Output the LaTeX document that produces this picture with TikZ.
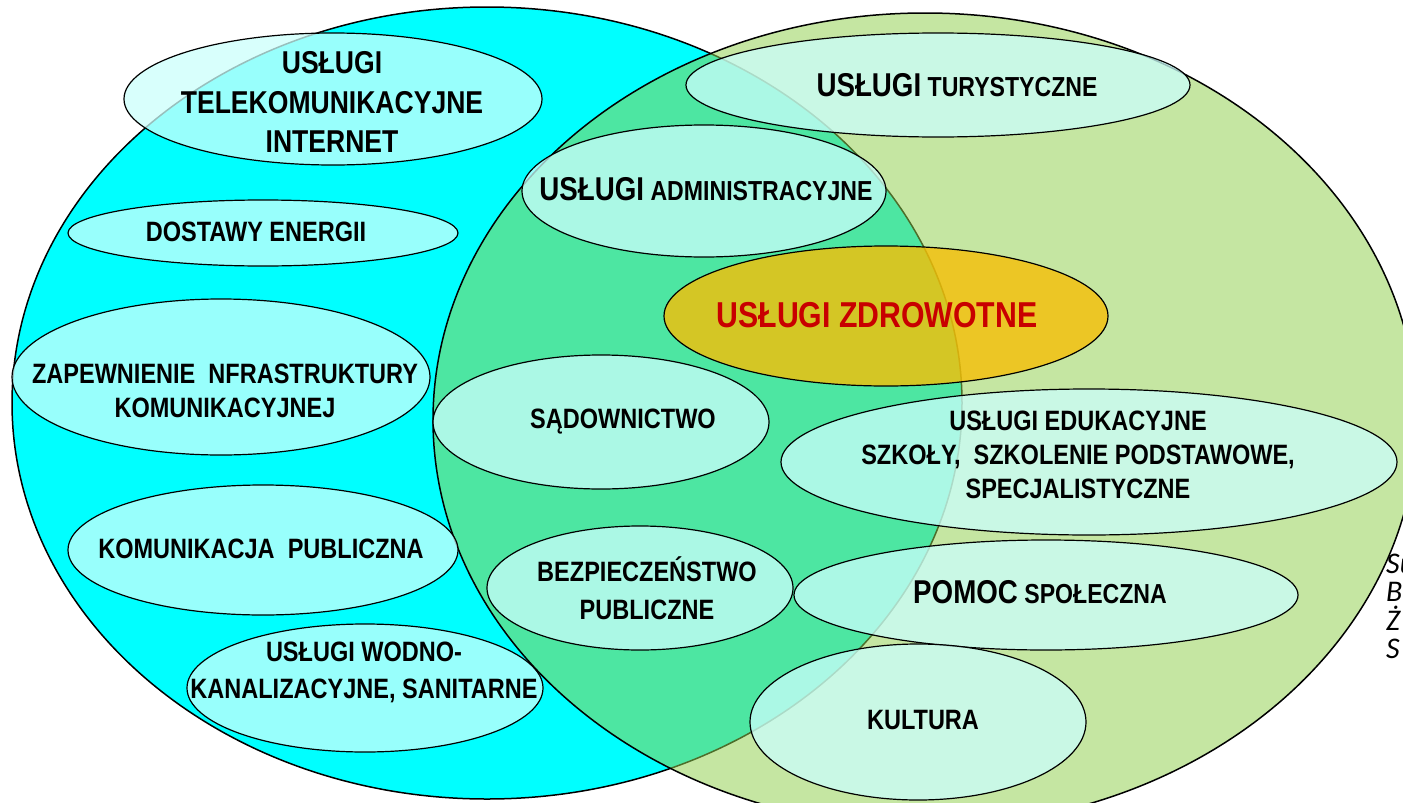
\documentclass[tikz,border=0pt]{standalone}
\usepackage{fontspec}
\newfontfamily\narrowsf{Liberation Sans}[FakeStretch=0.84]
\newfontfamily\notefont{Carlito}
\usetikzlibrary{shapes.geometric}
\definecolor{setcyan}{RGB}{0,255,255}
\definecolor{setgreen}{RGB}{146,208,80}
\definecolor{bubblefill}{RGB}{203,255,252}
\definecolor{healthgold}{RGB}{246,190,6}
\definecolor{healthred}{RGB}{200,0,0}
\newcommand\leadword[1]{{\fontsize{33}{40}\selectfont #1}}

\begin{document}
\begin{tikzpicture}[x=1pt,y=-1pt,
  % the two big sets:
  venn/.style = {ellipse, draw, line width=1.5pt, inner sep=0},
  % common options for the small ellipses:
  bubble/.style = {ellipse, draw, line width=1.2pt, fill=bubblefill,
              fill opacity=0.75, inner sep=0},
  % common options for the texts:
  txt/.style = {align=center, inner sep=0,
              font=\narrowsf\bfseries\fontsize{28}{34}\selectfont},
  note/.style = {anchor=base west, inner sep=0,
              font=\notefont\itshape\fontsize{30}{28}\selectfont}
	]
  \useasboundingbox[fill=white] (0,0) rectangle (1403,803);

  \node[venn, fill=setcyan, minimum width=950pt, minimum height=792pt] (tech) at (487,403) {};
  \node[venn, fill=setgreen, fill opacity=0.53, minimum width=984pt, minimum height=814pt] (social) at (925,420) {};

  \node[bubble, minimum width=418pt, minimum height=132pt] (tele) at (333,99) {};
  \node[bubble, minimum width=390pt, minimum height=66pt] (energy) at (263,233) {};
  \node[bubble, minimum width=418pt, minimum height=156pt] (infra) at (221,377) {};
  \node[bubble, minimum width=390pt, minimum height=130pt] (transport) at (263,550) {};
  \node[bubble, minimum width=356pt, minimum height=128pt] (water) at (365,688) {};
  \node[bubble, minimum width=504pt, minimum height=104pt] (tourism) at (938,85) {};
  \node[bubble, minimum width=364pt, minimum height=132pt] (admin) at (704,191) {};
  \node[bubble, fill=healthgold, fill opacity=0.8, minimum width=444pt, minimum height=140pt] (health) at (886,316) {};
  \node[bubble, minimum width=336pt, minimum height=134pt] (courts) at (601,422) {};
  \node[bubble, minimum width=616pt, minimum height=146pt] (edu) at (1089,462) {};
  \node[bubble, minimum width=306pt, minimum height=124pt] (safety) at (640,588) {};
  \node[bubble, minimum width=504pt, minimum height=110pt] (welfare) at (1046,595) {};
  \node[bubble, minimum width=336pt, minimum height=156pt] (culture) at (918,722) {};

  \node[txt, font=\narrowsf\bfseries\fontsize{31.6}{39.5}\selectfont] (tele-t) at (332,102) {USŁUGI\\TELEKOMUNIKACYJNE\\INTERNET};
  \node[txt] (energy-t) at (256,232) {DOSTAWY ENERGII};
  \node[txt] (infra-t) at (225,391) {ZAPEWNIENIE~~NFRASTRUKTURY\\KOMUNIKACYJNEJ};
  \node[txt] (transport-t) at (261,549) {KOMUNIKACJA~~PUBLICZNA};
  \node[txt, font=\narrowsf\bfseries\fontsize{28}{37}\selectfont] (water-t) at (364,672) {USŁUGI WODNO-\\KANALIZACYJNE, SANITARNE};
  \node[txt, font=\narrowsf\bfseries\fontsize{27.5}{34}\selectfont] (tourism-t) at (957,85) {\leadword{USŁUGI} TURYSTYCZNE};
  \node[txt, font=\narrowsf\bfseries\fontsize{27.5}{34}\selectfont] (admin-t) at (706,189) {\leadword{USŁUGI} ADMINISTRACYJNE};
  \node[txt, text=healthred, font=\narrowsf\bfseries\fontsize{36}{42}\selectfont] (health-t) at (877,315) {USŁUGI ZDROWOTNE};
  \node[txt] (courts-t) at (623,422) {SĄDOWNICTWO};
  \node[txt] (edu-t) at (1078,455) {USŁUGI EDUKACYJNE\\SZKOŁY,~~SZKOLENIE PODSTAWOWE,\\SPECJALISTYCZNE};
  \node[txt, font=\narrowsf\bfseries\fontsize{28}{38}\selectfont] (safety-t) at (647,588) {BEZPIECZEŃSTWO\\PUBLICZNE};
  \node[txt, font=\narrowsf\bfseries\fontsize{27.5}{34}\selectfont] (welfare-t) at (1040,592) {\leadword{POMOC} SPOŁECZNA};
  \node[txt] (culture-t) at (923,720) {KULTURA};

  % source note, cut by the right edge
  \node[note] (note1) at (1386,573) {Su};
  \node[note] (note2) at (1386,601.5) {B};
  \node[note] (note3) at (1386,630) {Ż};
  \node[note] (note4) at (1386,658.5) {S};
\end{tikzpicture}
\end{document}
